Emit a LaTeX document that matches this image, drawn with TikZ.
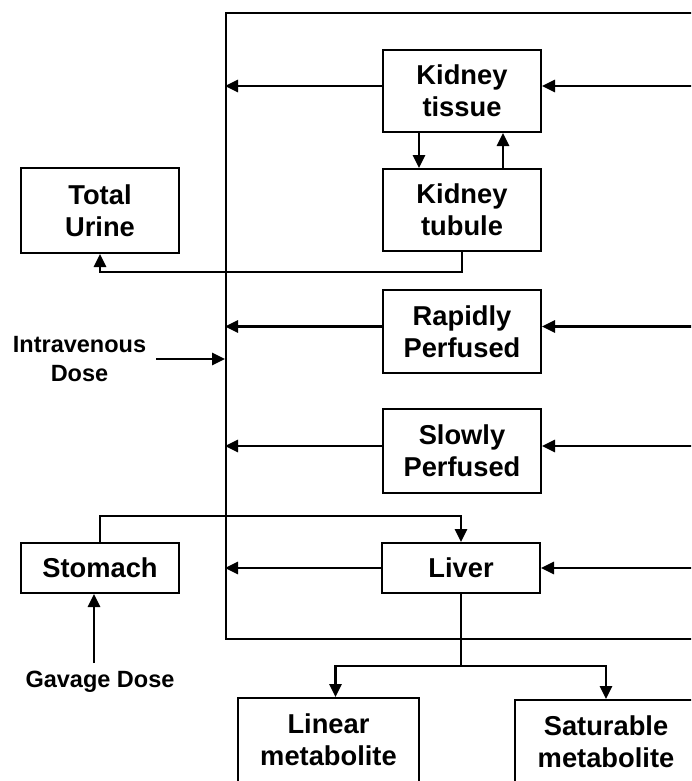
\documentclass[tikz,border=0pt]{standalone}
\usepackage{fontspec}
\setmainfont{Liberation Sans}
\usetikzlibrary{arrows.meta,positioning}
\tikzset{
  organ/.style={rectangle, draw=black, line width=2pt, minimum width=158pt,
    minimum height=82pt, align=center, inner sep=0pt,
    font=\bfseries\fontsize{27.3}{32}\selectfont},
  dosetext/.style={align=center, inner sep=0pt,
    font=\bfseries\fontsize{23.5}{29}\selectfont},
  bloodpool/.style={rectangle, draw=black, line width=2pt,
    minimum width=534pt, minimum height=626pt},
  flow/.style={-{Triangle[length=13pt,width=12pt]}, line width=2.8pt}
}

\begin{document}
\begin{tikzpicture}[x=1pt,y=-1pt]
  \clip (0,0) rectangle (691,781);

  % --- blood ---
  \node[bloodpool] (blood) at (493,326) {};

  % --- tissues ---
  \node[organ] (tissue) at (462,91) {Kidney\\tissue};
  \node[organ, below=35pt of tissue] (tubule) {Kidney\\tubule};
  \node[organ, minimum height=85pt] (urine) at (100,210.5) {Total\\Urine};
  \node[organ, minimum height=83pt] (rapid) at (462,331.5) {Rapidly\\Perfused};
  \node[organ, minimum height=84pt] (slow) at (462,451) {Slowly\\Perfused};
  \node[organ, minimum height=50pt] (liver) at (461,568) {Liver};
  \node[organ, minimum height=50pt] (stomach) at (100,568) {Stomach};

  % --- metabolites ---
  \node[organ, minimum width=181pt, minimum height=84pt] (linear) at (328.5,740) {Linear\\metabolite};
  \node[organ, minimum width=182pt, minimum height=84pt] (saturable) at (606,742) {Saturable\\metabolite};

  % --- doses ---
  \node[dosetext] (ivdose) at (79.5,359) {Intravenous\\Dose};
  \node[dosetext] (gavage) at (100,682) {Gavage Dose};

  % ---------------- edges ----------------
  \draw[flow] ([yshift=5pt]tissue.west) -- ([yshift=5pt]tissue.west -| blood.west);
  \draw[flow] ([yshift=5pt]tissue.east -| blood.east) -- ([yshift=5pt]tissue.east);
  \draw[flow] ([yshift=5pt]rapid.west) -- ([yshift=5pt]rapid.west -| blood.west);
  \draw[flow] ([yshift=5pt]rapid.east -| blood.east) -- ([yshift=5pt]rapid.east);
  \draw[flow] ([yshift=5pt]slow.west) -- ([yshift=5pt]slow.west -| blood.west);
  \draw[flow] ([yshift=5pt]slow.east -| blood.east) -- ([yshift=5pt]slow.east);
  \draw[flow] (liver.west) -- (liver.west -| blood.west);
  \draw[flow] (liver.east -| blood.east) -- (liver.east);

  % kidney exchange
  \draw[flow] ([xshift=-43pt]tissue.south) -- ([xshift=-43pt]tubule.north);
  \draw[flow] ([xshift=41pt]tubule.north) -- ([xshift=41pt]tissue.south);
  \draw[flow] (tubule.south) -- ++(0,20) -| (urine.south);

  % dosing
  \draw[flow] ([xshift=10pt]ivdose.east) -- (ivdose.east -| blood.west);
  \draw[flow] ([xshift=-6pt,yshift=8pt]gavage.north) -- ([xshift=-6pt]stomach.south);
  \draw[flow] (stomach.north) -- ++(0,-26) -| (liver.north);

  % metabolism
  \draw[flow] (liver.south) -- ++(0,72) -| ([xshift=7pt]linear.north);
  \draw[flow] (liver.south) -- ++(0,72) -| (saturable.north);

\end{tikzpicture}
\end{document}
